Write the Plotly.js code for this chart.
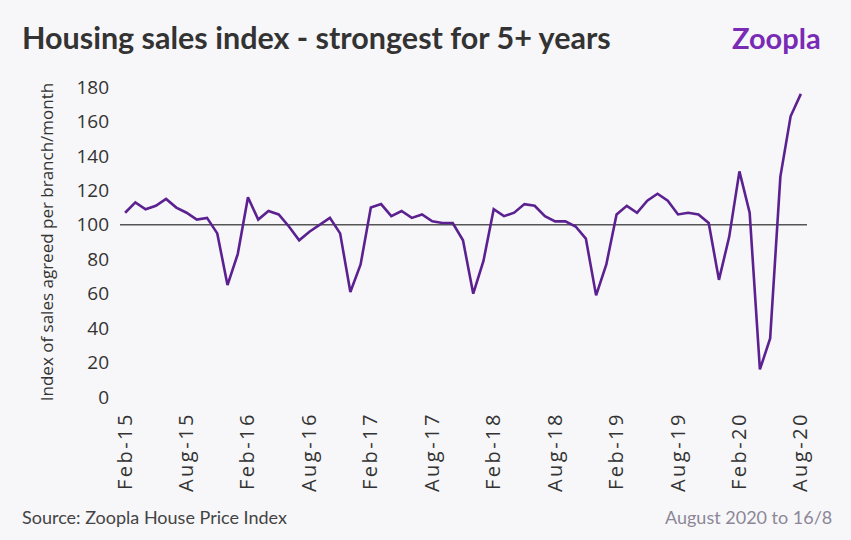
<!DOCTYPE html>
<html>
<head>
<meta charset="utf-8">
<script src="https://cdn.plot.ly/plotly-3.0.1.min.js"></script>
<style>
html,body{margin:0;padding:0;background:#f7f7f9;}
#chart{width:851px;height:540px;}
#chart .xtick text{letter-spacing:2.5px;}
</style>
</head>
<body>
<div id="chart"></div>
<script>
const months = ["Feb-15","Mar-15","Apr-15","May-15","Jun-15","Jul-15","Aug-15","Sep-15","Oct-15","Nov-15","Dec-15","Jan-16",
"Feb-16","Mar-16","Apr-16","May-16","Jun-16","Jul-16","Aug-16","Sep-16","Oct-16","Nov-16","Dec-16","Jan-17",
"Feb-17","Mar-17","Apr-17","May-17","Jun-17","Jul-17","Aug-17","Sep-17","Oct-17","Nov-17","Dec-17","Jan-18",
"Feb-18","Mar-18","Apr-18","May-18","Jun-18","Jul-18","Aug-18","Sep-18","Oct-18","Nov-18","Dec-18","Jan-19",
"Feb-19","Mar-19","Apr-19","May-19","Jun-19","Jul-19","Aug-19","Sep-19","Oct-19","Nov-19","Dec-19","Jan-20",
"Feb-20","Mar-20","Apr-20","May-20","Jun-20","Jul-20","Aug-20"];
const salesIndex = [107,113,109,111,115,110,107,103,104,95,65,83,
116,103,108,106,99,91,96,100,104,95,61,77,
110,112,105,108,104,106,102,101,101,91,60,79,
109,105,107,112,111,105,102,102,99,92,59,77,
106,111,107,114,118,114,106,107,106,101,68,93,
131,107,16,34,128,163,176];
const referenceLevel = [100, 100];
const tickLabels = ["Feb-15","Aug-15","Feb-16","Aug-16","Feb-17","Aug-17","Feb-18","Aug-18","Feb-19","Aug-19","Feb-20","Aug-20"];
const yTicks = [0,20,40,60,80,100,120,140,160,180];

const idx = months.map((m,i)=>i);
const tickIdx = tickLabels.map(t=>months.indexOf(t));

const traces = [
  {x:[-0.5, 66.6], y:referenceLevel, mode:'lines', line:{color:'#555555', width:1.6}, hoverinfo:'skip', showlegend:false},
  {x:idx, y:salesIndex, mode:'lines', line:{color:'#5c2191', width:2.6}, showlegend:false}
];

const layout = {
  width:851, height:540,
  paper_bgcolor:'#f7f7f9', plot_bgcolor:'#f7f7f9',
  margin:{l:120, r:44, t:87, b:143},
  font:{family:'"Open Sans", sans-serif', color:'#333333'},
  xaxis:{range:[-0.5,66.6], tickvals:tickIdx, ticktext:tickLabels, tickangle:-90,
    showgrid:false, zeroline:false, showline:false, ticks:'', tickfont:{size:20, color:'#333'},
    ticklabelstandoff:10, fixedrange:true},
  yaxis:{range:[0,180], tickvals:yTicks, showgrid:false, zeroline:false, showline:false, ticks:'',
    tickfont:{size:19, color:'#333'}, ticklabelstandoff:10,
    title:{text:'Index of sales agreed per branch/month', font:{size:17, color:'#333'}, standoff:18}},
  annotations:[
    {text:'<b>Housing sales index - strongest for 5+ years</b>', xref:'paper', yref:'paper', x:-0.146, y:1.0, xanchor:'left', yanchor:'middle',
      yshift:50, showarrow:false, font:{family:'Lato, sans-serif', size:30.5, color:'#333333'}},
    {text:'<b>Zoopla</b>', xref:'paper', yref:'paper', x:1.023, xanchor:'right', y:1.0, yanchor:'middle', yshift:50, showarrow:false,
      font:{family:'Lato, sans-serif', size:29, color:'#7a2bb5'}},
    {text:'Source: Zoopla House Price Index', xref:'paper', yref:'paper', x:-0.146, xanchor:'left', y:0, yanchor:'middle', yshift:-120, showarrow:false,
      font:{family:'Lato, sans-serif', size:18, color:'#444444'}},
    {text:'August 2020 to 16/8', xref:'paper', yref:'paper', x:1.04, xanchor:'right', y:0, yanchor:'middle', yshift:-120, showarrow:false,
      font:{family:'Lato, sans-serif', size:18, color:'#8c8797'}}
  ]
};
Plotly.newPlot('chart', traces, layout, {displayModeBar:false, staticPlot:true});
</script>
</body>
</html>
